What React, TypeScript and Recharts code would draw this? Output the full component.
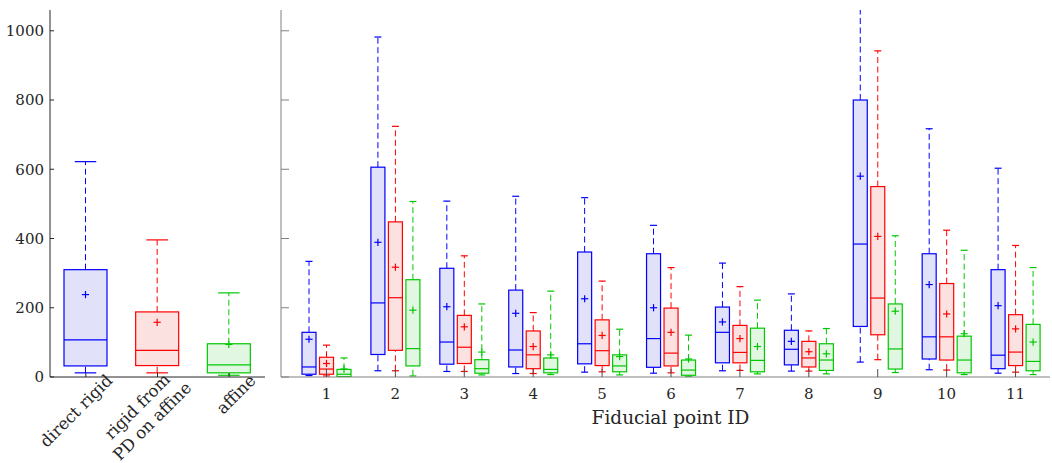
import React from 'react';
import { BarChart, Bar, XAxis, YAxis, Label } from 'recharts';

const SERIF = '"DejaVu Serif", serif';
const INK = '#262626';

// ---- Left panel: pooled over all fiducial points ----
const leftCategories = ['direct rigid', 'rigid from\nPD on affine', 'affine'];
const leftMin = [12, 12, 5];
const leftQ1 = [32, 33, 12];
const leftMedian = [107, 77, 35];
const leftQ3 = [310, 188, 96];
const leftMax = [622, 396, 243];
const leftMean = [238, 158, 94];

// ---- Right panel: per fiducial point ----
const fiducialIds = ['1', '2', '3', '4', '5', '6', '7', '8', '9', '10', '11'];

const rigidMin = [4, 18, 16, 10, 14, 11, 18, 17, 43, 21, 11];
const rigidQ1 = [8, 65, 37, 29, 38, 28, 41, 35, 146, 52, 24];
const rigidMedian = [29, 214, 101, 78, 96, 111, 129, 80, 384, 116, 63];
const rigidQ3 = [129, 606, 314, 251, 361, 356, 202, 135, 800, 356, 310];
const rigidMax = [334, 982, 508, 522, 518, 438, 329, 240, 1100, 717, 603];
const rigidMean = [109, 389, 203, 184, 226, 200, 159, 103, 580, 267, 206];

const pdMin = [3, 18, 16, 10, 15, 12, 19, 17, 50, 20, 14];
const pdQ1 = [8, 77, 39, 24, 33, 32, 41, 29, 122, 49, 33];
const pdMedian = [23, 229, 86, 64, 76, 69, 71, 55, 228, 116, 72];
const pdQ3 = [57, 448, 178, 133, 165, 199, 149, 103, 550, 270, 180];
const pdMax = [92, 724, 350, 186, 277, 316, 261, 133, 942, 424, 380];
const pdMean = [39, 317, 145, 88, 120, 129, 111, 73, 406, 182, 139];

const affineMin = [1, 3, 6, 7, 6, 2, 9, 9, 13, 7, 7];
const affineQ1 = [1, 32, 11, 12, 15, 5, 15, 19, 23, 12, 18];
const affineMedian = [8, 82, 24, 22, 32, 20, 48, 49, 81, 49, 45];
const affineQ3 = [22, 281, 50, 55, 64, 49, 141, 96, 211, 118, 152];
const affineMax = [55, 507, 211, 248, 138, 121, 222, 140, 408, 366, 316];
const affineMean = [23, 193, 72, 64, 59, 52, 88, 67, 190, 125, 101];

const yTicks = [0, 200, 400, 600, 800, 1000];
const yDomain = [0, 1060];

const palette = [
  { stroke: '#0000ff', fill: '#e1e1fa' },
  { stroke: '#ff0000', fill: '#fce1e1' },
  { stroke: '#00c800', fill: '#e2f7e2' },
];

type Stats = { min: number; q1: number; med: number; q3: number; max: number; mean: number };

const stat = (mn: number[], q1: number[], md: number[], q3: number[], mx: number[], me: number[], i: number): Stats => ({
  min: mn[i], q1: q1[i], med: md[i], q3: q3[i], max: mx[i], mean: me[i],
});

const leftData = leftCategories.map((name, i) => ({
  name,
  idx: i,
  s: stat(leftMin, leftQ1, leftMedian, leftQ3, leftMax, leftMean, i),
}));

const rightData = fiducialIds.map((id, i) => ({
  id,
  rigid: stat(rigidMin, rigidQ1, rigidMedian, rigidQ3, rigidMax, rigidMean, i),
  pd: stat(pdMin, pdQ1, pdMedian, pdQ3, pdMax, pdMean, i),
  affine: stat(affineMin, affineQ1, affineMedian, affineQ3, affineMax, affineMean, i),
}));

let ctx: CanvasRenderingContext2D | null = null;
function measure(text: string, font: string): number {
  if (!ctx) ctx = document.createElement('canvas').getContext('2d');
  if (!ctx) return text.length * 8;
  ctx.font = font;
  return ctx.measureText(text).width;
}

function makeBoxShape(
  getStats: (p: any) => Stats,
  getStyle: (p: any) => { stroke: string; fill: string },
  capFrac: number,
  plusHalf: number
) {
  return (props: any) => {
    const { x, y, width, height, payload } = props;
    if (payload == null || !isFinite(x) || !isFinite(y) || !isFinite(height)) return <g />;
    const s = getStats(payload);
    const { stroke, fill } = getStyle(payload);
    const top = Math.min(y, y + height);
    const h = Math.abs(height);
    const k = h / (s.q3 - s.q1);
    const py = (v: number) => top + (s.q3 - v) * k;
    const cx = x + width / 2;
    const capHalf = (width * capFrac) / 2;
    const sw = 1.2;
    const my = py(s.mean);
    return (
      <g>
        <line x1={cx} x2={cx} y1={py(s.min)} y2={py(s.q1)} stroke={stroke} strokeWidth={1} strokeDasharray="6 3.5" />
        <line x1={cx} x2={cx} y1={py(s.q3)} y2={py(s.max)} stroke={stroke} strokeWidth={1} strokeDasharray="6 3.5" />
        <line x1={cx - capHalf} x2={cx + capHalf} y1={py(s.max)} y2={py(s.max)} stroke={stroke} strokeWidth={sw} />
        <line x1={cx - capHalf} x2={cx + capHalf} y1={py(s.min)} y2={py(s.min)} stroke={stroke} strokeWidth={sw} />
        <rect x={x} y={top} width={width} height={h} fill={fill} stroke={stroke} strokeWidth={sw} />
        <line x1={x} x2={x + width} y1={py(s.med)} y2={py(s.med)} stroke={stroke} strokeWidth={sw} />
        <line x1={cx - plusHalf} x2={cx + plusHalf} y1={my} y2={my} stroke={stroke} strokeWidth={sw} />
        <line x1={cx} x2={cx} y1={my - plusHalf} y2={my + plusHalf} stroke={stroke} strokeWidth={sw} />
      </g>
    );
  };
}

const leftShape = makeBoxShape((p) => p.s, (p) => palette[p.idx], 0.5, 3.6);
const rigidShape = makeBoxShape((p) => p.rigid, () => palette[0], 0.5, 3.6);
const pdShape = makeBoxShape((p) => p.pd, () => palette[1], 0.5, 3.6);
const affineShape = makeBoxShape((p) => p.affine, () => palette[2], 0.5, 3.6);

const LABEL_FS = 16.5;

const LeftTick = (props: any) => {
  const { x, y, payload } = props;
  const lines = String(payload.value).split('\n');
  const font = `${LABEL_FS}px "DejaVu Serif"`;
  const widths = lines.map((l) => measure(l, font));
  const maxW = Math.max(...widths);
  const lh = 21;
  return (
    <g transform={`translate(${x + 24},${y + 5}) rotate(-45)`}>
      {lines.map((l, i) => (
        <text
          key={i}
          x={-(maxW - widths[i]) / 2}
          y={(i - (lines.length - 1) / 2) * lh + 5}
          textAnchor="end"
          fill={INK}
          fontSize={LABEL_FS}
          fontFamily={SERIF}
        >
          {l}
        </text>
      ))}
    </g>
  );
};

const AxisTitle = (props: any) => {
  const vb = props.viewBox || { x: 281, y: 377, width: 769, height: 80 };
  return (
    <text x={vb.x + vb.width / 2 + 5} y={vb.y + 47} textAnchor="middle" fill={INK} fontSize={18.5} fontFamily={SERIF}>
      Fiducial point ID
    </text>
  );
};

export default function App() {
  return (
    <div style={{ position: 'absolute', left: 0, top: 0, width: 1052, height: 463, background: '#fff', overflow: 'hidden' }}>
      <div style={{ position: 'absolute', left: 0, top: 0 }}>
        <BarChart width={275} height={463} data={leftData} margin={{ top: 10, right: 10, bottom: 6, left: 0 }}>
          <XAxis
            dataKey="name"
            interval={0}
            height={80}
            tickSize={-4}
            tickMargin={0}
            axisLine={{ stroke: INK }}
            tickLine={{ stroke: INK }}
            tick={<LeftTick />}
          />
          <YAxis
            width={50}
            domain={yDomain}
            ticks={yTicks}
            interval={0}
            tickSize={-4}
            tickMargin={10}
            axisLine={{ stroke: INK }}
            tickLine={{ stroke: INK }}
            tick={{ fill: INK, fontSize: 15, fontFamily: SERIF }}
          />
          <Bar dataKey={(d: any) => [d.s.q1, d.s.q3]} barSize={43} isAnimationActive={false} shape={leftShape} />
        </BarChart>
      </div>
      <div style={{ position: 'absolute', left: 265, top: 0 }}>
        <BarChart width={787} height={463} data={rightData} barGap={3.5} margin={{ top: 10, right: 2, bottom: 6, left: 0 }}>
          <XAxis
            dataKey="id"
            interval={0}
            height={80}
            padding={{ left: 11, right: 0 }}
            tickSize={-8}
            tickMargin={19}
            axisLine={{ stroke: '#808080' }}
            tickLine={{ stroke: '#4d4d4d' }}
            tick={{ fill: INK, fontSize: 15, fontFamily: SERIF }}
          >
            <Label content={<AxisTitle />} />
          </XAxis>
          <YAxis
            width={16}
            domain={yDomain}
            ticks={yTicks}
            interval={0}
            allowDataOverflow
            tickSize={-8}
            tickFormatter={() => ''}
            axisLine={{ stroke: '#808080' }}
            tickLine={{ stroke: '#808080' }}
          />
          <Bar dataKey={(d: any) => [d.rigid.q1, d.rigid.q3]} barSize={14} isAnimationActive={false} shape={rigidShape} />
          <Bar dataKey={(d: any) => [d.pd.q1, d.pd.q3]} barSize={14} isAnimationActive={false} shape={pdShape} />
          <Bar dataKey={(d: any) => [d.affine.q1, d.affine.q3]} barSize={14} isAnimationActive={false} shape={affineShape} />
        </BarChart>
      </div>
    </div>
  );
}
